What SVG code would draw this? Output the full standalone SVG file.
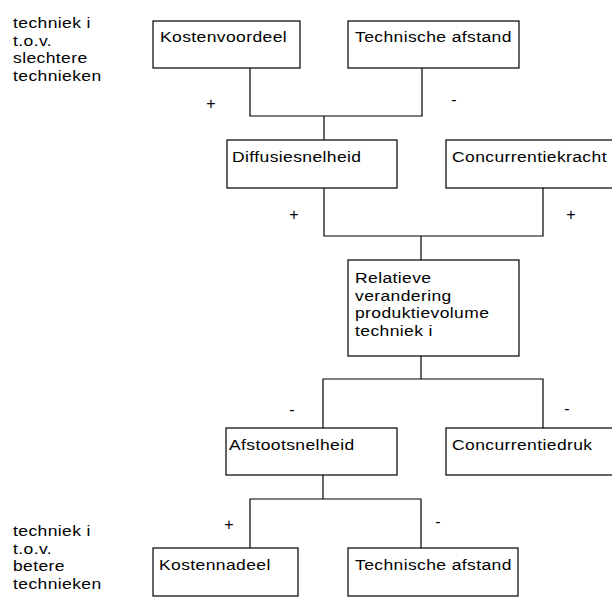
<svg xmlns="http://www.w3.org/2000/svg" width="612" height="603" viewBox="0 0 612 603">
<style>
text { font-family: "Liberation Sans", Arial, sans-serif; font-size: 15.5px; fill: #000; letter-spacing: 0.35px; }
.sign { font-size: 16px; letter-spacing: 0; text-anchor: middle; }
.box { fill: #fff; stroke: #000; stroke-width: 1.2; }
.conn { fill: none; stroke: #000; stroke-width: 1.2; }
</style>
<rect width="612" height="603" fill="#fff"/>
<g id="label-top">
<text transform="translate(13,28) scale(1.13,1)">techniek i</text>
<text transform="translate(13,45.5) scale(1.13,1)">t.o.v.</text>
<text transform="translate(13,63) scale(1.13,1)">slechtere</text>
<text transform="translate(13,80.5) scale(1.13,1)">technieken</text>
</g>
<g id="label-bottom">
<text transform="translate(13,536) scale(1.13,1)">techniek i</text>
<text transform="translate(13,553.5) scale(1.13,1)">t.o.v.</text>
<text transform="translate(13,571) scale(1.13,1)">betere</text>
<text transform="translate(13,588.5) scale(1.13,1)">technieken</text>
</g>
<g id="connectors">
<polyline class="conn" points="250,68 250,116 422,116 422,68"/>
<line class="conn" x1="324" y1="116" x2="324" y2="140"/>
<polyline class="conn" points="324,188 324,236 543,236 543,188"/>
<line class="conn" x1="421" y1="236" x2="421" y2="260"/>
<line class="conn" x1="421" y1="356" x2="421" y2="379"/>
<polyline class="conn" points="323,428 323,379 543,379 543,428"/>
<line class="conn" x1="323" y1="475" x2="323" y2="499"/>
<polyline class="conn" points="250,548 250,499 421,499 421,548"/>
<text class="sign" x="211" y="109">+</text>
<text class="sign" x="454" y="105">-</text>
<text class="sign" x="294" y="220">+</text>
<text class="sign" x="571" y="220">+</text>
<text class="sign" x="292" y="415">-</text>
<text class="sign" x="567" y="414">-</text>
<text class="sign" x="229" y="530">+</text>
<text class="sign" x="438" y="527">-</text>
</g>
<g id="kostenvoordeel">
<rect class="box" x="153" y="21" width="147" height="47"/>
<text transform="translate(160,42) scale(1.13,1)">Kostenvoordeel</text>
</g>
<g id="technische-afstand-top">
<rect class="box" x="348" y="21" width="171" height="47"/>
<text transform="translate(355,42) scale(1.13,1)">Technische afstand</text>
</g>
<g id="diffusiesnelheid">
<rect class="box" x="227" y="140" width="170" height="48"/>
<text transform="translate(232,162) scale(1.13,1)">Diffusiesnelheid</text>
</g>
<g id="concurrentiekracht">
<rect class="box" x="446" y="140" width="180" height="48"/>
<text transform="translate(452,162) scale(1.13,1)">Concurrentiekracht</text>
</g>
<g id="relatieve-verandering">
<rect class="box" x="348" y="260" width="171" height="96"/>
<text transform="translate(355,283) scale(1.13,1)">Relatieve</text>
<text transform="translate(355,300.5) scale(1.13,1)">verandering</text>
<text transform="translate(355,318) scale(1.13,1)">produktievolume</text>
<text transform="translate(355,335.5) scale(1.13,1)">techniek i</text>
</g>
<g id="afstootsnelheid">
<rect class="box" x="226" y="428" width="171" height="47"/>
<text transform="translate(229,450) scale(1.13,1)">Afstootsnelheid</text>
</g>
<g id="concurrentiedruk">
<rect class="box" x="446" y="428" width="180" height="47"/>
<text transform="translate(452,450) scale(1.13,1)">Concurrentiedruk</text>
</g>
<g id="kostennadeel">
<rect class="box" x="153" y="548" width="145" height="48"/>
<text transform="translate(159,570) scale(1.13,1)">Kostennadeel</text>
</g>
<g id="technische-afstand-bottom">
<rect class="box" x="348" y="548" width="170" height="48"/>
<text transform="translate(355,570) scale(1.13,1)">Technische afstand</text>
</g>
</svg>
